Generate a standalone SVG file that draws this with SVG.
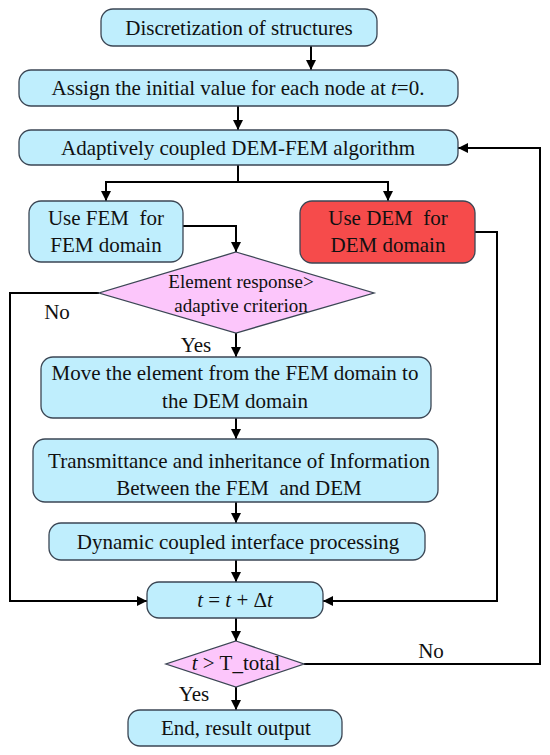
<svg xmlns="http://www.w3.org/2000/svg" width="550" height="755" viewBox="0 0 550 755">
<defs>
<marker id="ah" viewBox="0 0 10 10" refX="10" refY="5" markerWidth="10" markerHeight="10" markerUnits="userSpaceOnUse" orient="auto">
<path d="M0,0 L10,5 L0,10 z" fill="#000"/>
</marker>
<style>
.box{fill:#bfeefd;stroke:#3b4654;stroke-width:1.3}
.red{fill:#f64b4b;stroke:#3b4654;stroke-width:1.3}
.dia{fill:#fcc6fb;stroke:#3b4654;stroke-width:1.3}
.t{font-family:"Liberation Serif","Times New Roman",serif;font-size:21px;fill:#111;text-anchor:middle}
.s{font-size:19px}
.c{fill:none;stroke:#000;stroke-width:2}
</style>
</defs>
<rect width="550" height="755" fill="#fff"/>
<g id="connectors">
<path class="c" d="M311,46 V70" marker-end="url(#ah)"/>
<path class="c" d="M238,106 V130" marker-end="url(#ah)"/>
<path class="c" d="M238,165 V182"/>
<path class="c" d="M105,182 H389"/>
<path class="c" d="M106,181 V201" marker-end="url(#ah)"/>
<path class="c" d="M388,181 V201" marker-end="url(#ah)"/>
<path class="c" d="M183,226 H236 V252" marker-end="url(#ah)"/>
<path class="c" d="M99,293 H10 V601 H147" marker-end="url(#ah)"/>
<path class="c" d="M236,333 V357" marker-end="url(#ah)"/>
<path class="c" d="M236,418 V439" marker-end="url(#ah)"/>
<path class="c" d="M236,502 V523" marker-end="url(#ah)"/>
<path class="c" d="M236,560 V582" marker-end="url(#ah)"/>
<path class="c" d="M475,232 H497 V601 H323" marker-end="url(#ah)"/>
<path class="c" d="M236,618 V641" marker-end="url(#ah)"/>
<path class="c" d="M304,664 H540 V148 H458" marker-end="url(#ah)"/>
<path class="c" d="M236,687 V710" marker-end="url(#ah)"/>
<text class="t" x="57" y="319">No</text>
<text class="t" x="196" y="352">Yes</text>
<text class="t" x="431" y="658">No</text>
<text class="t" x="194" y="701">Yes</text>
</g>
<g id="n1"><rect class="box" x="101" y="9" width="276" height="37" rx="12"/><text class="t" x="239" y="35">Discretization of structures</text></g>
<g id="n2"><rect class="box" x="19" y="70" width="439" height="36" rx="12"/><text class="t" x="238" y="95">Assign the initial value for each node at <tspan font-style="italic">t</tspan>=0.</text></g>
<g id="n3"><rect class="box" x="19" y="130" width="439" height="35" rx="12"/><text class="t" x="238" y="155">Adaptively coupled DEM-FEM algorithm</text></g>
<g id="n4"><rect class="box" x="29" y="201" width="154" height="61" rx="12"/><text class="t" x="106" y="225">Use FEM&#160; for</text><text class="t" x="106" y="252">FEM domain</text></g>
<g id="n5"><rect class="red" x="300" y="201" width="175" height="62" rx="12"/><text class="t" x="388" y="225">Use DEM&#160; for</text><text class="t" x="388" y="252">DEM domain</text></g>
<g id="n6"><polygon class="dia" points="236,252 374,293 236,333 99,293"/><text class="t s" x="241" y="288">Element response&gt;</text><text class="t s" x="241" y="312">adaptive criterion</text></g>
<g id="n7"><rect class="box" x="41" y="357" width="390" height="61" rx="12"/><text class="t" x="235" y="380">Move the element from the FEM domain to</text><text class="t" x="235" y="408">the DEM domain</text></g>
<g id="n8"><rect class="box" x="33" y="439" width="405" height="63" rx="12"/><text class="t" x="239" y="468">Transmittance and inheritance of Information</text><text class="t" x="239" y="495">Between the FEM&#160; and DEM</text></g>
<g id="n9"><rect class="box" x="49" y="523" width="376" height="37" rx="12"/><text class="t" x="238" y="549">Dynamic coupled interface processing</text></g>
<g id="n10"><rect class="box" x="147" y="582" width="176" height="36" rx="12"/><text class="t" x="235" y="607"><tspan font-style="italic">t</tspan> = <tspan font-style="italic">t</tspan> + Δ<tspan font-style="italic">t</tspan></text></g>
<g id="n11"><polygon class="dia" points="236,641 304,664 236,687 166,664"/><text class="t" x="236" y="670"><tspan font-style="italic">t</tspan> &gt; T_total</text></g>
<g id="n12"><rect class="box" x="128" y="710" width="214" height="36" rx="12"/><text class="t" x="236" y="735">End, result output</text></g>
</svg>
